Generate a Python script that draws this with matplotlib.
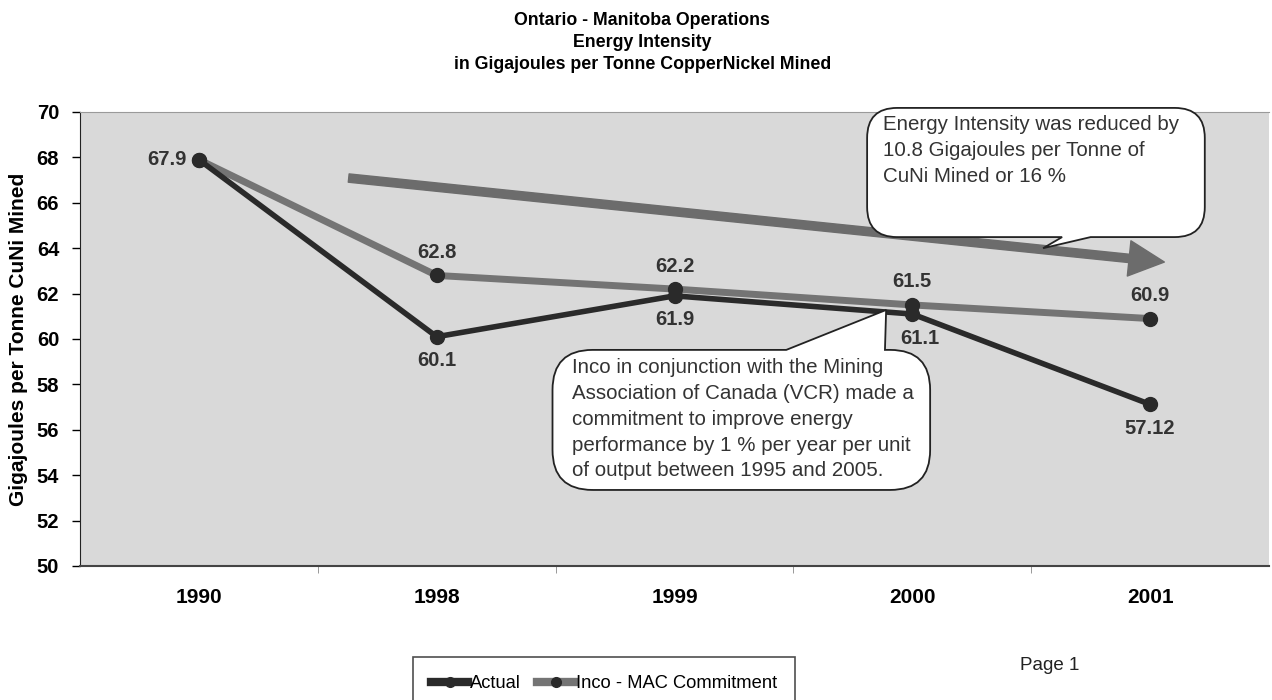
import numpy as np
import matplotlib.pyplot as plt
import matplotlib.transforms as mtransforms
from matplotlib.path import Path
from matplotlib.patches import PathPatch, FancyArrowPatch
from matplotlib.lines import Line2D

# data
years = ["1990", "1998", "1999", "2000", "2001"]
actual = [67.9, 60.1, 61.9, 61.1, 57.12]
commitment = [67.9, 62.8, 62.2, 61.5, 60.9]
actual_labels = ["", "60.1", "61.9", "61.1", "57.12"]
commit_labels = ["67.9", "62.8", "62.2", "61.5", "60.9"]

title = ("Ontario - Manitoba Operations\nEnergy Intensity\n"
         "in Gigajoules per Tonne CopperNickel Mined")
note_top = ("Energy Intensity was reduced by\n10.8 Gigajoules per Tonne of\n"
            "CuNi Mined or 16 %")
note_low = ("Inco in conjunction with the Mining\nAssociation of Canada (VCR) made a\n"
            "commitment to improve energy\nperformance by 1 % per year per unit\n"
            "of output between 1995 and 2005.")

plt.rcParams['font.family'] = ['Liberation Sans', 'DejaVu Sans']

C_ACT = "#2a2a2a"
C_COM = "#747474"

fig = plt.figure(figsize=(12.72, 7.0), dpi=100)
ax = fig.add_axes([80 / 1272, 1 - 566 / 700, 1189 / 1272, 454 / 700])
ax.set_facecolor("#d9d9d9")

x = np.arange(len(years))
ax.plot(x, commitment, color=C_COM, lw=5, marker="o", ms=10, mfc=C_ACT, mec=C_ACT, zorder=3)
ax.plot(x, actual, color=C_ACT, lw=4, marker="o", ms=10, mfc=C_ACT, mec=C_ACT, zorder=4)

ax.set_xlim(-0.5, len(years) - 0.5)
ax.set_ylim(50, 70)
ax.set_yticks(np.arange(50, 71, 2))
ax.tick_params(axis="y", labelsize=14.5, length=6, width=1, direction="out", pad=9)
for t in ax.get_yticklabels():
    t.set_fontweight("bold")
ax.set_xticks(x)
ax.set_xticklabels(years, fontsize=15, fontweight="bold")
ax.tick_params(axis="x", which="major", length=0, pad=16)
ax.set_xticks(x[:-1] + 0.5, minor=True)
ax.tick_params(axis="x", which="minor", length=5, color="#888888")

ax.spines["right"].set_visible(False)
ax.spines["top"].set_color("#9a9a9a")
ax.spines["left"].set_color("#222222")
ax.spines["bottom"].set_color("#444444")
ax.spines["bottom"].set_linewidth(1.5)

ax.set_ylabel("Gigajoules per Tonne CuNi Mined", fontsize=15, fontweight="bold", labelpad=6)

# data labels
lab_kw = dict(textcoords="offset pixels", va="center", fontsize=14.5,
              fontweight="bold", color="#333333")
for i, (v, s) in enumerate(zip(commitment, commit_labels)):
    if i == 0:
        ax.annotate(s, (i, v), xytext=(-12, 0), ha="right", **lab_kw)
    else:
        ax.annotate(s, (i, v), xytext=(0, 23), ha="center", **lab_kw)
for i, (v, s) in enumerate(zip(actual, actual_labels)):
    if s:
        dx = 8 if i == 3 else 0
        ax.annotate(s, (i, v), xytext=(dx, -24), ha="center", **lab_kw)

# big trend arrow
arrow = FancyArrowPatch((0.63, 67.09), (4.06, 63.39),
                        arrowstyle="simple,head_length=0.85,head_width=0.85,tail_width=0.2",
                        mutation_scale=30, color="#6c6c6c", shrinkA=0, shrinkB=0, zorder=2)
ax.add_patch(arrow)


def callout(ax, box, base, tip, edge, r=26):
    # rounded box with a pointer, built in display pixels
    (x0, y0), (x1, y1) = ax.transData.transform([(box[0], box[2]), (box[1], box[3])])
    xa, _ = ax.transData.transform((base[0], box[2]))
    xb, _ = ax.transData.transform((base[1], box[2]))
    tx, ty = ax.transData.transform(tip)
    y0, y1 = min(y0, y1), max(y0, y1)
    M, L, C = Path.MOVETO, Path.LINETO, Path.CURVE3
    v, c = [(x0 + r, y0)], [M]
    if edge == "bottom":
        v += [(xa, y0), (tx, ty), (xb, y0)]
        c += [L, L, L]
    v += [(x1 - r, y0), (x1, y0), (x1, y0 + r), (x1, y1 - r), (x1, y1), (x1 - r, y1)]
    c += [L, C, C, L, C, C]
    if edge == "top":
        v += [(xb, y1), (tx, ty), (xa, y1)]
        c += [L, L, L]
    v += [(x0 + r, y1), (x0, y1), (x0, y1 - r), (x0, y0 + r), (x0, y0), (x0 + r, y0)]
    c += [L, C, C, L, C, C]
    p = PathPatch(Path(v, c), transform=mtransforms.IdentityTransform(),
                  facecolor="white", edgecolor="#222222", lw=1.3, zorder=6, clip_on=False)
    ax.add_patch(p)


callout(ax, (2.81, 4.23, 64.49, 70.18), (3.63, 3.75), (3.55, 64.0), "bottom", r=30)
callout(ax, (1.487, 3.075, 53.35, 59.52), (2.47, 2.885), (2.89, 61.28), "top", r=40)

ax.text(2.877, 69.85, note_top, ha="left", va="top", fontsize=14.8,
        color="#333333", linespacing=1.45, zorder=7)
ax.text(1.567, 59.15, note_low, ha="left", va="top", fontsize=14.8,
        color="#333333", linespacing=1.45, zorder=7)

fig.text(0.505, 0.983, title, ha="center", va="top", fontsize=12.8,
         fontweight="bold", linespacing=1.38)

handles = [Line2D([], [], color=C_ACT, lw=6, marker="o", ms=7, mfc=C_ACT, mec=C_ACT),
           Line2D([], [], color=C_COM, lw=6, marker="o", ms=7, mfc=C_ACT, mec=C_ACT)]
leg = fig.legend(handles, ["Actual", "Inco - MAC Commitment"], ncol=2,
                 loc="upper left", bbox_to_anchor=(413 / 1272, 1 - 657 / 700),
                 prop={"size": 13.2}, frameon=True, fancybox=False, edgecolor="#222222",
                 handlelength=2.0, handletextpad=0.1, columnspacing=0.9,
                 borderpad=1.0, borderaxespad=0)
leg.get_frame().set_linewidth(1.2)

fig.text(1020 / 1272, 1 - 665 / 700, "Page 1", ha="left", va="center",
         fontsize=13.5, color="#222222")

fig.savefig("out.png", dpi=100)
